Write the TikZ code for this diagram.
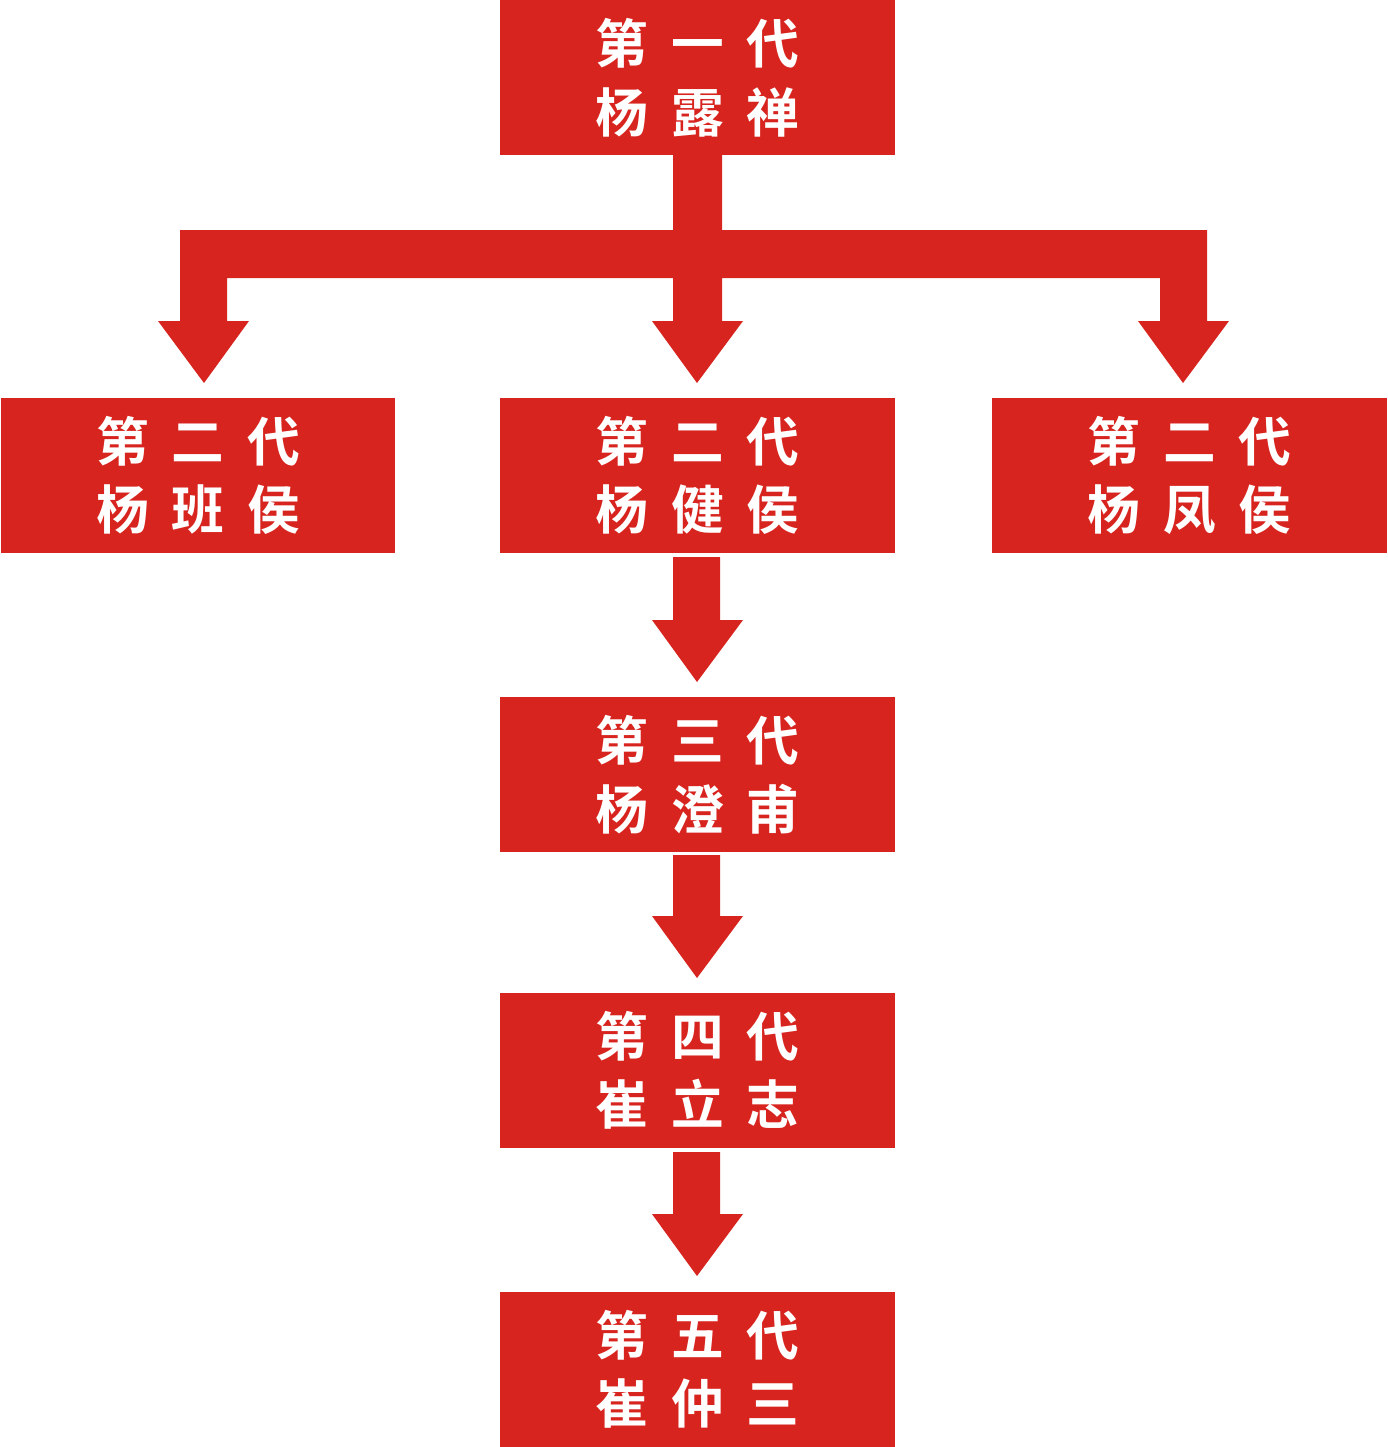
\documentclass[tikz,border=0pt]{standalone}
\usepackage{fontspec}
\newfontfamily\cjk{Noto Sans CJK SC Bold}
\definecolor{rd}{HTML}{D8241E}
\tikzset{box/.style={fill=rd,text=white,minimum width=7.9cm,minimum height=3.1cm,inner sep=0pt,align=center,font=\cjk\fontsize{30}{39}\selectfont},
blk/.style={fill=rd}}
\newcommand{\gp}{\hspace{13pt}}
\begin{document}
\begin{tikzpicture}[x=0.02cm,y=-0.02cm]
\useasboundingbox (0,0) rectangle (1388,1447);
\node[box] (g1) at (697.5,77.5) {第\gp 一\gp 代\\杨\gp 露\gp 禅};
\node[box] (b1) at (198,475.5) {第\gp 二\gp 代\\杨\gp 班\gp 侯};
\node[box] (b2) at (697.5,475.5) {第\gp 二\gp 代\\杨\gp 健\gp 侯};
\node[box] (b3) at (1189.5,475.5) {第\gp 二\gp 代\\杨\gp 凤\gp 侯};
\node[box] (g3) at (697.5,774.5) {第\gp 三\gp 代\\杨\gp 澄\gp 甫};
\node[box] (g4) at (697.5,1070.5) {第\gp 四\gp 代\\崔\gp 立\gp 志};
\node[box] (g5) at (697.5,1369.5) {第\gp 五\gp 代\\崔\gp 仲\gp 三};
% tree connector
\fill[blk] (673,155) -- (722,155) -- (722,230) -- (1207,230) -- (1207,321) -- (1229,321) -- (1183,383) -- (1138,321) -- (1160,321) -- (1160,278)
 -- (722,278) -- (722,321) -- (743,321) -- (697,383) -- (652,321) -- (673,321) -- (673,278)
 -- (227,278) -- (227,321) -- (249,321) -- (204,383) -- (158,321) -- (180,321) -- (180,230) -- (673,230) -- cycle;
\foreach \a/\b in {557/682,855/978,1152/1276}{
 \fill[blk] (673,\a) -- (720,\a) -- (720,\b-62) -- (743,\b-62) -- (697,\b) -- (652,\b-62) -- (673,\b-62) -- cycle;}
\end{tikzpicture}
\end{document}
